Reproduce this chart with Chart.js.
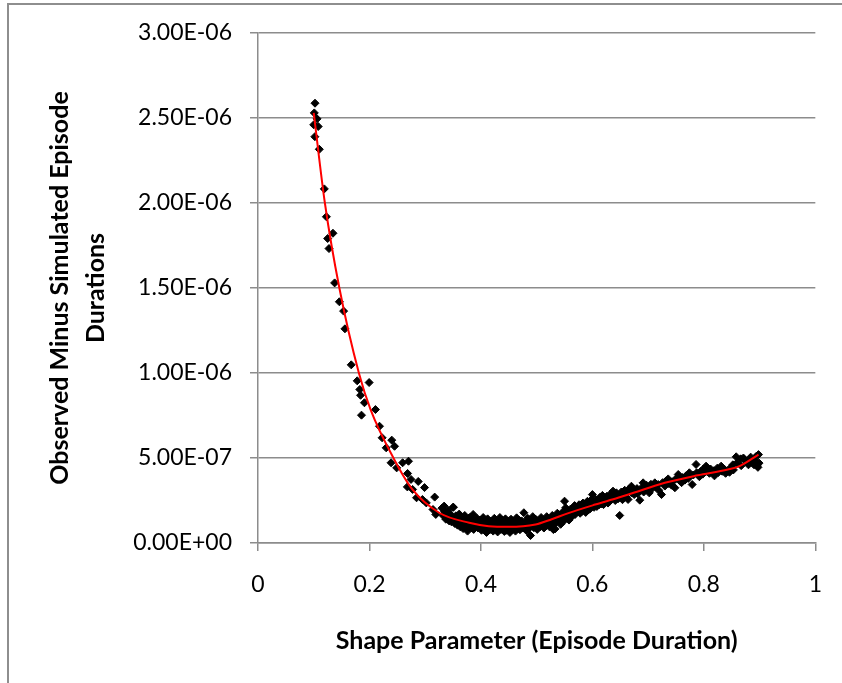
<!DOCTYPE html>
<html>
<head>
<meta charset="utf-8">
<script src="https://cdn.jsdelivr.net/npm/chart.js@4"></script>
<style>
  html, body { margin: 0; padding: 0; background: #fff; }
  #wrap { position: relative; width: 842px; height: 683px; overflow: hidden; }
  /* grey frame of the excel chart, only left + top edges show */
  #frame { position: absolute; left: 7px; top: 3px; width: 900px; height: 800px;
           border-left: 2px solid #8e8e8e; border-top: 2px solid #8e8e8e; }
  canvas { position: absolute; left: 0; top: 0; }
</style>
</head>
<body>
<div id="wrap">
  <div id="frame"></div>
  <canvas id="chart" width="842" height="683"></canvas>
</div>
<script>
// all y values are in units of 1E-07
const xTicks = [0, 0.2, 0.4, 0.6, 0.8, 1];
const yTicks = [0, 5, 10, 15, 20, 25, 30];

// steep part on the left
const steepX = [0.1023, 0.101, 0.106, 0.100, 0.108, 0.102, 0.110, 0.119, 0.1227, 0.1345, 0.125, 0.1274,
  0.1375, 0.146, 0.1536, 0.156, 0.1673, 0.178, 0.1994, 0.1827, 0.184, 0.191, 0.2107, 0.1857, 0.218,
  0.2227, 0.240, 0.245, 0.230, 0.2388, 0.2595, 0.270, 0.2488, 0.2684, 0.2745, 0.2875, 0.268, 0.2988,
  0.2845, 0.2774, 0.295, 0.317, 0.302, 0.314, 0.334, 0.3505, 0.319];
const steepY = [25.87, 25.3, 24.95, 24.6, 24.5, 23.9, 23.16, 20.83, 19.19, 18.22, 17.91, 17.32,
  15.30, 14.19, 13.64, 12.6, 10.48, 9.54, 9.44, 9.03, 8.69, 8.25, 7.85, 7.52, 6.87,
  6.19, 6.05, 5.69, 5.6, 4.72, 4.72, 4.81, 4.42, 4.09, 3.74, 3.62, 3.3, 3.26,
  2.66, 3.15, 2.56, 2.7, 2.36, 1.97, 2.17, 2.11, 1.68];

// the dense trough
const troughX = [0.330, 0.332, 0.335, 0.337, 0.340, 0.341, 0.343, 0.345, 0.347, 0.350, 0.351, 0.353,
  0.355, 0.356, 0.358, 0.360, 0.361, 0.363, 0.365, 0.366, 0.368, 0.370, 0.371, 0.373,
  0.375, 0.376, 0.378, 0.380, 0.381, 0.383, 0.385, 0.386, 0.387, 0.389, 0.390, 0.391, 0.393,
  0.395, 0.396, 0.398, 0.400, 0.401, 0.402, 0.404, 0.405, 0.406, 0.408, 0.410, 0.411, 0.412, 0.414,
  0.415, 0.416, 0.418, 0.420, 0.421, 0.422, 0.424, 0.425, 0.426, 0.428, 0.430, 0.431, 0.432, 0.434,
  0.435, 0.436, 0.438, 0.440, 0.441, 0.442, 0.444, 0.445, 0.446, 0.448, 0.450, 0.451, 0.452, 0.454,
  0.455, 0.456, 0.458, 0.460, 0.461, 0.462, 0.464, 0.465, 0.466, 0.468, 0.470, 0.471, 0.473,
  0.475, 0.476, 0.477, 0.480, 0.481, 0.482, 0.484, 0.485, 0.486, 0.488, 0.489, 0.490, 0.491, 0.493,
  0.495, 0.496, 0.498, 0.500, 0.501, 0.503, 0.505, 0.506, 0.508, 0.510, 0.511, 0.513,
  0.515, 0.516, 0.518, 0.520, 0.521, 0.523, 0.525, 0.526, 0.528, 0.530, 0.531, 0.533,
  0.535, 0.536, 0.537, 0.533, 0.540, 0.541, 0.543, 0.545, 0.546, 0.548, 0.550, 0.551, 0.552, 0.554,
  0.555, 0.556, 0.558, 0.560, 0.561, 0.563, 0.565, 0.566, 0.568, 0.569, 0.571, 0.573,
  0.575, 0.576, 0.578, 0.580, 0.581, 0.583, 0.585, 0.586, 0.588, 0.590, 0.591, 0.593,
  0.595, 0.596, 0.598];
const troughY = [2.05, 1.62, 1.85, 1.40, 1.55, 1.92, 1.30, 1.70, 1.25, 2.10, 1.48, 1.15,
  1.60, 1.20, 1.05, 1.38, 1.70, 0.95, 1.50, 1.12, 0.85, 1.35, 1.62, 1.00,
  1.25, 0.70, 1.45, 1.15, 1.52, 0.90, 1.30, 1.68, 0.80, 1.05, 1.20, 0.95, 1.45,
  0.88, 1.10, 1.35, 1.25, 0.75, 1.05, 1.50, 1.00, 1.30, 0.82, 0.62, 1.15, 1.42, 0.95,
  1.05, 0.78, 1.28, 0.90, 1.20, 0.70, 1.45, 1.10, 0.85, 1.32, 0.65, 0.98, 1.25, 1.50,
  1.05, 0.80, 1.35, 0.92, 1.18, 0.68, 1.42, 1.00, 0.75, 1.30, 0.88, 1.15, 0.62, 1.40,
  1.05, 0.80, 1.28, 0.95, 1.22, 0.70, 1.48, 1.10, 0.85, 1.35, 0.78, 1.02, 1.30,
  1.15, 0.88, 1.78, 0.95, 1.25, 0.72, 1.45, 1.08, 0.85, 1.35, 0.44, 1.00, 1.22, 1.55,
  0.90, 1.15, 1.40, 1.05, 0.80, 1.30, 1.20, 0.95, 1.50, 1.10, 1.35, 0.88,
  1.25, 1.00, 1.55, 1.18, 1.42, 0.95, 1.30, 1.05, 1.62, 0.79, 1.40, 1.15,
  1.50, 1.25, 1.75, 0.83, 1.35, 1.60, 1.10, 1.55, 1.80, 1.28, 2.46, 1.45, 2.07, 1.70,
  1.60, 1.90, 1.35, 1.75, 2.00, 1.55, 1.68, 1.95, 2.20, 1.68, 2.05, 1.85,
  1.95, 2.25, 1.75, 2.10, 1.85, 2.35, 2.00, 2.30, 1.80, 2.15, 2.45, 1.95,
  2.25, 2.02, 2.55];

// slow rise to the right
const riseX = [0.600, 0.601, 0.603, 0.605, 0.606, 0.608, 0.611, 0.612, 0.614, 0.615, 0.616, 0.618,
  0.620, 0.621, 0.623, 0.625, 0.626, 0.628, 0.630, 0.631, 0.633, 0.637, 0.635, 0.636,
  0.640, 0.641, 0.643, 0.649, 0.645, 0.646, 0.651, 0.652, 0.654, 0.655, 0.656, 0.658,
  0.660, 0.661, 0.664, 0.665, 0.670, 0.671, 0.673, 0.675, 0.677, 0.680, 0.681, 0.685, 0.686,
  0.691, 0.690, 0.692, 0.695, 0.697, 0.700, 0.702, 0.705, 0.707, 0.712, 0.714, 0.718, 0.719,
  0.724, 0.726, 0.730, 0.732, 0.736, 0.737, 0.742, 0.743, 0.748, 0.749, 0.754, 0.755,
  0.760, 0.762, 0.766, 0.768, 0.774, 0.772, 0.779, 0.781, 0.786, 0.787, 0.792, 0.794,
  0.798, 0.799, 0.804, 0.806, 0.810, 0.812, 0.818, 0.819, 0.824, 0.826, 0.831, 0.833,
  0.838, 0.839, 0.846, 0.847, 0.852, 0.853, 0.858, 0.859, 0.866, 0.867, 0.873, 0.871,
  0.879, 0.880, 0.885, 0.884, 0.890, 0.891, 0.895, 0.894, 0.898, 0.899, 0.897];
const riseY = [2.85, 2.40, 2.10, 2.35, 2.56, 2.15, 2.46, 2.25, 2.70, 2.50, 2.30, 2.80,
  2.26, 2.60, 2.40, 2.55, 2.75, 2.35, 2.65, 2.45, 2.90, 3.05, 2.60, 2.80,
  2.70, 2.50, 2.95, 1.62, 2.80, 2.60, 2.75, 3.00, 2.55, 2.85, 2.65, 3.10,
  2.90, 2.70, 2.56, 3.15, 3.34, 2.95, 3.15, 2.85, 3.05, 3.20, 2.90, 2.52, 3.10,
  3.54, 3.30, 3.00, 3.15, 3.40, 3.25, 2.95, 3.45, 3.20, 3.54, 3.30, 3.44, 3.10,
  2.85, 3.55, 3.35, 3.65, 3.77, 3.50, 3.40, 3.60, 3.25, 3.75, 4.03, 3.73,
  3.55, 3.85, 3.70, 3.95, 4.13, 3.80, 3.44, 4.00, 4.62, 4.13, 3.90, 4.20,
  4.05, 4.35, 4.52, 4.20, 4.10, 4.35, 4.25, 3.95, 4.40, 4.15, 4.52, 4.22,
  4.30, 4.10, 4.16, 4.40, 4.60, 4.30, 5.07, 4.70, 4.95, 4.55, 4.91, 5.00,
  4.81, 4.60, 4.75, 5.05, 4.60, 4.85, 4.56, 5.10, 5.20, 4.70, 4.45];

// red trend line
const fitX = [0.100, 0.120, 0.146, 0.181, 0.202, 0.243, 0.277, 0.325, 0.379, 0.414, 0.450,
  0.498, 0.527, 0.557, 0.605, 0.646, 0.670, 0.730, 0.789, 0.843, 0.864, 0.898];
const fitY = [25.3, 20.0, 15.0, 10.0, 7.85, 5.0, 3.15, 1.78, 1.19, 0.99, 0.95,
  1.09, 1.40, 1.76, 2.26, 2.66, 2.91, 3.54, 3.98, 4.32, 4.52, 5.20];

function pts(xs, ys) {
  return xs.map((x, i) => ({ x: x, y: ys[i] }));
}

// 3E-06 style labels, exponent always two digits
function sci(v) {
  let val = v * 1e-7;
  if (val === 0) return '0.00E+00';
  let parts = val.toExponential(2).split('e');
  let n = parseInt(parts[1], 10);
  return parts[0] + 'E' + (n < 0 ? '-' : '+') + String(Math.abs(n)).padStart(2, '0');
}

const FONT = "Lato, 'Liberation Sans', sans-serif";
const GRID = '#8c8c8c';

const allX = steepX.concat(troughX, riseX);
const allY = steepY.concat(troughY, riseY);

new Chart(document.getElementById('chart'), {
  type: 'scatter',
  data: {
    datasets: [
      {
        label: 'fit',
        data: pts(fitX, fitY),
        showLine: true,
        borderColor: '#ff0000',
        borderWidth: 2,
        pointRadius: 0,
        cubicInterpolationMode: 'monotone',
        order: 0
      },
      {
        label: 'observed',
        data: pts(allX, allY),
        pointStyle: 'rectRot',
        pointRadius: 4,
        backgroundColor: '#000',
        borderColor: '#000',
        borderWidth: 1,
        order: 1
      }
    ]
  },
  options: {
    responsive: false,
    animation: false,
    devicePixelRatio: 1,
    layout: { padding: { left: 10, right: 24, top: 33, bottom: 0 } },
    plugins: { legend: { display: false }, tooltip: { enabled: false } },
    scales: {
      x: {
        type: 'linear',
        min: 0, max: 1,
        afterBuildTicks: s => { s.ticks = xTicks.map(v => ({ value: v })); },
        afterFit: s => { s.height = 140; },
        grid: { drawOnChartArea: false, drawTicks: true, tickLength: 8, color: GRID, lineWidth: 1.5 },
        border: { display: true, color: GRID, width: 1.5 },
        ticks: {
          color: '#000', padding: 20, maxRotation: 0,
          font: { family: FONT, size: 23 },
          callback: v => String(v)
        },
        title: {
          display: true,
          text: 'Shape Parameter (Episode Duration)',
          color: '#000',
          font: { family: FONT, size: 25, weight: 'bold', lineHeight: 1.2 },
          padding: { top: 0, bottom: 27 }
        }
      },
      y: {
        min: 0, max: 30,
        afterBuildTicks: s => { s.ticks = yTicks.map(v => ({ value: v })); },
        afterFit: s => { s.width = 248; },
        grid: { drawTicks: true, tickLength: 8, color: GRID, lineWidth: 1.5 },
        border: { display: true, color: GRID, width: 1.5 },
        ticks: {
          color: '#000', padding: 18,
          font: { family: FONT, size: 23 },
          callback: v => sci(v)
        },
        title: {
          display: true,
          text: ['Observed Minus Simulated Episode', 'Durations'],
          color: '#000',
          font: { family: FONT, size: 25, weight: 'bold', lineHeight: 1.44 },
          padding: { top: 32, bottom: 0 }
        }
      }
    }
  }
});
</script>
</body>
</html>
